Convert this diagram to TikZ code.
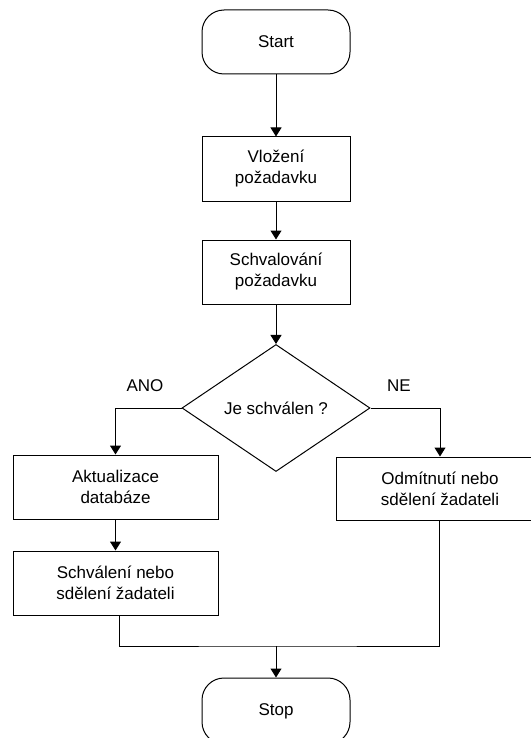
\documentclass[tikz,border=0pt]{standalone}
\usepackage{fontspec}
\setmainfont{Liberation Sans}
\usetikzlibrary{shapes.geometric,arrows.meta}
\begin{document}
\begin{tikzpicture}[x=1pt,y=-1pt,
  every node/.style={font=\fontsize{17}{21}\selectfont, align=center},
  term/.style={draw, line width=1pt, rounded corners=22pt, minimum width=148pt, minimum height=64pt, inner sep=0pt},
  proc/.style={draw, line width=1pt, rectangle, minimum height=64pt, inner sep=0pt},
  decide/.style={draw, line width=1pt, diamond, minimum width=188pt, minimum height=127pt, inner sep=0pt},
  flow/.style={line width=1pt, -{Triangle[length=9pt,width=11pt]}},
  link/.style={line width=1pt}]
  \useasboundingbox (0,0) rectangle (530,738);

  \node[term] (start) at (276,42) {Start};
  \node[proc, minimum width=148pt] (zad) at (276,169) {Vložení\\požadavku};
  \node[proc, minimum width=148pt] (schv) at (276,272) {Schvalování\\požadavku};
  \node[decide] (dec) at (276,408) {Je schválen ?};
  \node[proc, minimum width=205pt] (akt) at (115.5,487) {Aktualizace\\databáze};
  \node[proc, minimum width=205pt] (ok) at (115.5,583) {Schválení nebo\\sdělení žadateli};
  \node[proc, minimum width=208pt, minimum height=63pt] (ne) at (440,488.5) {Odmítnutí nebo\\sdělení žadateli};
  \node[term, minimum height=66pt] (stop) at (276,711) {Stop};

  \node (ano) at (145,386) {ANO};
  \node (nel) at (399,386) {NE};

  \coordinate (join) at (276,646);

  \draw[flow] (start) -- (zad);
  \draw[flow] (zad) -- (schv);
  \draw[flow] (schv) -- (dec);
  \draw[flow] (dec.west) -| (akt.north);
  \draw[flow] (dec.east) -| (ne.north);
  \draw[flow] (akt) -- (ok);
  \draw[link] ([xshift=3.5pt]ok.south) |- (join) -| ([xshift=-1pt]ne.south);
  \draw[flow] (join) -- (stop.north);
\end{tikzpicture}
\end{document}
